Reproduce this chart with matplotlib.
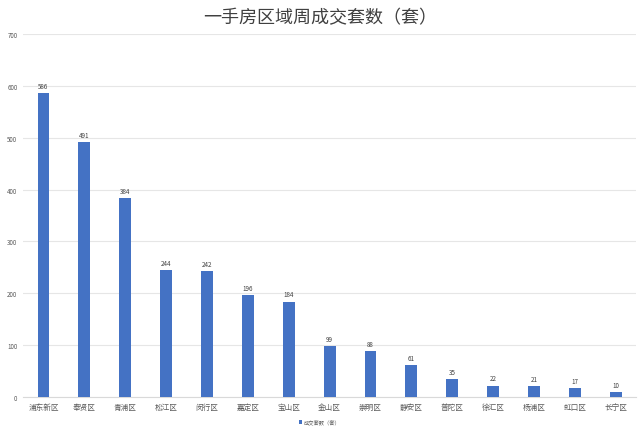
import matplotlib
matplotlib.use("Agg")
import matplotlib.pyplot as plt

plt.rcParams['font.family'] = ['Noto Sans CJK SC', 'DejaVu Sans']

districts = ["浦东新区", "奉贤区", "青浦区", "松江区", "闵行区", "嘉定区", "宝山区",
             "金山区", "崇明区", "静安区", "普陀区", "徐汇区", "杨浦区", "虹口区", "长宁区"]
values = [586, 491, 384, 244, 242, 196, 184, 99, 88, 61, 35, 22, 21, 17, 10]
yticks = [0, 100, 200, 300, 400, 500, 600, 700]

fig = plt.figure(figsize=(6.4, 4.31), dpi=100)
ax = fig.add_axes([0.036, 0.0766, 0.958, 0.8422])
x = list(range(len(districts)))
bars = ax.bar(x, values, width=0.29, color='#4472C4', label='成交套数（套）', zorder=3)
for xi, v in zip(x, values):
    ax.text(xi, v + 6, str(v), ha='center', va='bottom', fontsize=4.5, color='#404040')

ax.set_xlim(-0.5, len(districts) - 0.5)
ax.set_ylim(0, 700)
ax.set_yticks(yticks)
ax.set_yticklabels([str(t) for t in yticks])
ax.set_xticks(x)
ax.set_xticklabels(districts)
ax.tick_params(axis='both', length=0, colors='#595959')
ax.tick_params(axis='y', pad=4, labelsize=4.5)
ax.tick_params(axis='x', pad=4, labelsize=5.5)
ax.grid(axis='y', color='#e6e6e6', linewidth=0.8, zorder=0)
for s in ['top', 'right', 'left']:
    ax.spines[s].set_visible(False)
ax.spines['bottom'].set_color('#d9d9d9')

fig.text(0.5, 0.958, '一手房区域周成交套数（套）', ha='center', va='center', fontsize=13, color='#404040')
fig.legend(loc='center', bbox_to_anchor=(0.5, 0.018), frameon=False, fontsize=3.8,
           handlelength=0.6, handleheight=0.6, handletextpad=0.4, labelcolor='#595959')

fig.savefig('out.png', dpi=100)
